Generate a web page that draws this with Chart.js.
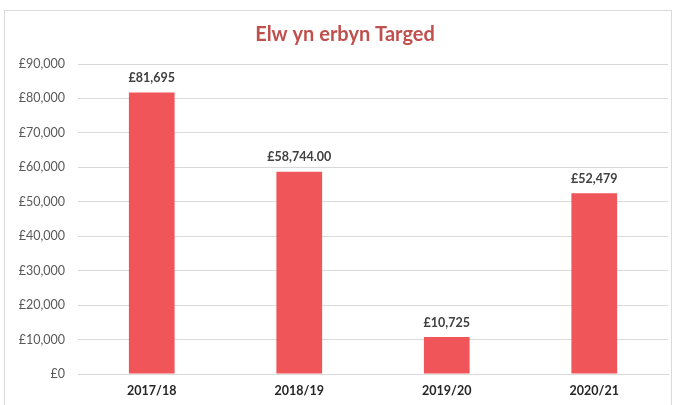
<!DOCTYPE html>
<html>
<head>
<meta charset="utf-8">
<script src="https://cdn.jsdelivr.net/npm/chart.js@4/dist/chart.umd.min.js"></script>
<style>
  html, body { margin: 0; padding: 0; background: #fff; }
  #wrap { position: relative; width: 678px; height: 405px; }
</style>
</head>
<body>
<div id="wrap"><canvas id="profitChart" width="678" height="405"></canvas></div>
<script>
const titleText = "Elw yn erbyn Targed";
const years = ["2017/18", "2018/19", "2019/20", "2020/21"];
const profit = [81695, 58744, 10725, 52479];
const profitLabels = ["£81,695", "£58,744.00", "£10,725", "£52,479"];
const yTicks = [0, 10000, 20000, 30000, 40000, 50000, 60000, 70000, 80000, 90000];

const FONT = "Lato, 'Liberation Sans', sans-serif";

// light frame around the whole chart, plus the title (a bit right of centre, like the original)
const framePlugin = {
  id: "frame",
  beforeDraw(chart) {
    const ctx = chart.ctx;
    ctx.save();
    ctx.strokeStyle = "#d9d9d9";
    ctx.lineWidth = 1;
    ctx.strokeRect(4.5, 10.5, 667, 400);
    ctx.font = "bold 20px " + FONT;
    ctx.fillStyle = "#C0504D";
    ctx.textAlign = "center";
    ctx.textBaseline = "alphabetic";
    ctx.fillText(titleText, 345, 41);
    ctx.restore();
  },
};

// value labels above each bar
const valueLabelPlugin = {
  id: "valueLabels",
  afterDatasetsDraw(chart) {
    const ctx = chart.ctx;
    const meta = chart.getDatasetMeta(0);
    ctx.save();
    ctx.font = "bold 12.5px " + FONT;
    ctx.fillStyle = "#404040";
    ctx.textAlign = "center";
    ctx.textBaseline = "bottom";
    meta.data.forEach((bar, i) => {
      ctx.fillText(profitLabels[i], bar.x, bar.y - 8);
    });
    ctx.restore();
  },
};

new Chart(document.getElementById("profitChart").getContext("2d"), {
  type: "bar",
  data: {
    labels: years,
    datasets: [
      {
        data: profit,
        backgroundColor: "#F0555A",
        categoryPercentage: 1,
        barPercentage: 0.31,
      },
    ],
  },
  options: {
    responsive: false,
    animation: false,
    layout: { padding: { left: 0, right: 10, top: 64, bottom: 0 } },
    plugins: {
      legend: { display: false },
      tooltip: { enabled: false },
      title: { display: false },
    },
    scales: {
      x: {
        grid: { display: false, drawTicks: false },
        border: { display: true, color: "#d9d9d9" },
        ticks: {
          color: "#262626",
          padding: 9,
          font: { family: FONT, size: 12.5, weight: "bold" },
        },
        afterFit(scale) {
          scale.height = 31;
        },
      },
      y: {
        min: 0,
        max: 90000,
        afterBuildTicks(scale) {
          scale.ticks = yTicks.map((v) => ({ value: v }));
        },
        grid: { color: "#d9d9d9", drawTicks: false },
        border: { display: false },
        ticks: {
          color: "#595959",
          padding: 13,
          font: { family: FONT, size: 12.5 },
          callback: (v) => "£" + v.toLocaleString("en-GB"),
        },
        afterFit(scale) {
          scale.width = 78;
        },
      },
    },
  },
  plugins: [framePlugin, valueLabelPlugin],
});
</script>
</body>
</html>
